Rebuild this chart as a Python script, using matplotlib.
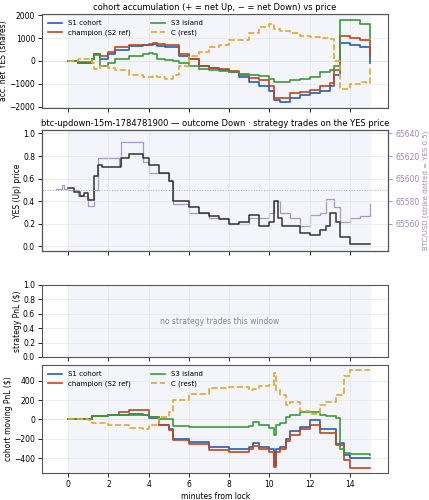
import matplotlib
matplotlib.use("Agg")
import matplotlib.pyplot as plt

t1 = [0,0.5,1.2,1.3,1.6,2.0,2.3,3.0,3.7,4.0,4.2,4.4,4.8,5.2,5.5,6.0,6.5,7.0,7.5,8.0,8.5,9.0,9.5,10.0,10.2,10.5,11,11.5,12,12.5,13.0,13.2,13.5,14.0,14.5,14.8,15]
acc_s1 = [0,-100,100,300,100,300,500,650,700,700,750,650,600,600,200,100,-200,-300,-400,-500,-700,-900,-1100,-1300,-1700,-1800,-1600,-1500,-1400,-1300,-1100,-600,800,700,600,600,-100]
acc_ch = [0,-100,100,300,200,400,600,700,700,750,800,750,700,700,300,100,-200,-300,-350,-450,-600,-750,-850,-1100,-1600,-1600,-1400,-1350,-1250,-1100,-950,-400,1100,1000,900,900,200]
acc_s3 = [0,-50,100,250,-200,-100,100,200,300,350,300,100,50,0,-100,-200,-350,-400,-450,-500,-550,-600,-650,-800,-900,-900,-850,-800,-700,-500,-400,-200,1800,1800,1600,1600,1000]
acc_c = [0,100,-100,-350,-200,-300,-400,-600,-700,-700,-650,-700,-800,-600,-200,200,400,600,700,900,900,1200,1500,1600,1400,1300,1200,1100,1050,1000,950,0,-1200,-1000,-900,-950,-300]

t_yes = [0,0.3,0.6,0.8,1.0,1.1,1.3,1.5,1.7,2.0,2.5,2.6,3.0,3.5,3.7,4.0,4.5,5.0,5.2,5.5,6.0,6.5,7.0,7.5,8.0,8.5,9.0,9.5,10.0,10.2,10.4,10.6,11.0,11.5,12.0,12.5,12.8,13.0,13.3,13.5,14.0,15]
yes = [.52,.48,.45,.47,.41,.41,.62,.72,.70,.70,.70,.78,.82,.82,.78,.72,.65,.58,.40,.40,.35,.30,.27,.24,.20,.22,.28,.18,.22,.40,.25,.18,.18,.12,.10,.15,.18,.30,.22,.08,.02,.02]
t_btc = [-0.6,-0.3,-0.2,0,0.5,1.0,1.3,1.5,2.5,2.6,3.5,3.7,4.0,5.0,5.2,6.0,7.0,8.0,9.0,10.0,10.2,10.5,11.0,11.5,12.0,12.5,12.8,13.2,13.5,14.0,14.5,15]
btc = [65591,65594,65591,65590,65585,65576,65590,65618,65612,65632,65632,65615,65605,65598,65578,65570,65565,65560,65565,65570,65580,65570,65565,65558,65568,65570,65582,65575,65562,65565,65567,65578]

t4 = [0,1.0,1.2,2.0,2.5,3.0,3.7,4.0,4.5,5.0,5.2,6.0,7.0,8.0,9.0,9.2,9.5,10.0,10.2,10.3,10.5,10.8,11.0,11.5,12.0,12.5,12.8,13.3,13.5,13.7,14.0,15]
pnl_s1 = [0,5,40,50,50,60,50,20,-60,-100,-200,-230,-280,-300,-280,-240,-280,-300,-480,-300,-280,-200,-120,-80,-10,-100,-100,-250,-240,-370,-400,-400]
pnl_ch = [0,5,40,50,80,100,100,30,-60,-110,-210,-250,-310,-330,-300,-270,-300,-330,-490,-330,-300,-220,-160,-100,-60,-140,-140,-260,-260,-420,-500,-500]
pnl_s3 = [0,5,40,50,50,50,50,30,10,0,-70,-80,-80,-80,-70,-30,-60,-90,-160,-60,-40,30,50,80,80,50,40,20,-300,-340,-350,-360]
pnl_c = [0,-5,-40,-60,-60,-90,-100,-60,30,80,200,260,320,330,300,310,340,350,480,300,250,150,180,90,60,150,180,250,250,450,510,510]

names = ["S1 cohort", "champion (S2 ref)", "S3 island", "C (rest)"]
cols = ["#1f5fbf", "#c0461e", "#3a9a3a", "#e0a82e"]

plt.rcParams['font.size'] = 5.5
fig = plt.figure(figsize=(4.29, 5.0), dpi=100)
L, W = 0.098, 0.807
ax1 = fig.add_axes([L, 0.784, W, 0.188])
ax2 = fig.add_axes([L, 0.498, W, 0.242])
ax3 = fig.add_axes([L, 0.286, W, 0.144])
ax4 = fig.add_axes([L, 0.054, W, 0.216])

for ax in (ax1, ax2, ax3, ax4):
    ax.set_xlim(-1.3, 15.9)
    if ax is not ax2:
        ax.axvspan(0, 15, color="#f3f5fa", zorder=0)
    ax.grid(True, color="#e6e6e6", lw=0.5)
    ax.set_axisbelow(True)
    ax.set_xticks([0, 2, 4, 6, 8, 10, 12, 14])
    for s in ax.spines.values():
        s.set_color("#555555")
    ax.tick_params(length=3, width=0.6, pad=2)

def draw(ax, t, series):
    for i, (y, c) in enumerate(zip(series, cols)):
        ls = "--" if i == 3 else "-"
        ax.step(t, y, where="post", color=c, lw=1.2, ls=ls, label=names[i])
    ax.axhline(0, color="#dddddd", lw=0.6, zorder=0.5)
    ax.legend(loc="upper left", ncol=2, frameon=False, fontsize=5, handlelength=2, columnspacing=3)

draw(ax1, t1, [acc_s1, acc_ch, acc_s3, acc_c])
ax1.set_ylim(-2050, 2050)
ax1.set_yticks([-2000, -1000, 0, 1000, 2000])
ax1.set_ylabel("acc. net YES (shares)", labelpad=1)
ax1.set_title("cohort accumulation (+ = net Up, − = net Down) vs price", fontsize=6, pad=3)
ax1.set_xticklabels([])

tw = ax2.twinx()
tw.axvspan(0, 15, color="#f3f5fa", zorder=0)
tw.step(t_btc, btc, where="post", color="#a998c8", lw=0.9, zorder=2)
tw.set_ylim(65536, 65643)
tw.set_yticks([65560, 65580, 65600, 65620, 65640])
tw.tick_params(colors="#9a86c0", length=3, width=0.6, pad=2)
tw.set_ylabel("BTC/USD (strike dotted = YES 0.5)", color="#9a86c0", fontsize=5, labelpad=2)
ax2.set_zorder(tw.get_zorder() + 1)
ax2.patch.set_visible(False)
ax2.step(t_yes, yes, where="post", color="#333333", lw=1.1)
ax2.axhline(0.5, color="#aaaaaa", lw=0.7, ls=":")
ax2.set_ylim(-0.04, 1.03)
ax2.set_ylabel("YES (Up) price", labelpad=1)
ax2.set_title("btc-updown-15m-1784781900 — outcome Down · strategy trades on the YES price", fontsize=6, pad=3)
ax2.set_xticklabels([])

ax3.set_ylim(0, 1)
ax3.set_yticks([0, 0.2, 0.4, 0.6, 0.8, 1.0])
ax3.set_ylabel("strategy PnL ($)", labelpad=1)
ax3.set_xticklabels([])
ax3.text(7.5, 0.5, "no strategy trades this window", ha="center", va="center", color="#888888", fontsize=5.5)

draw(ax4, t4, [pnl_s1, pnl_ch, pnl_s3, pnl_c])
ax4.set_ylim(-550, 560)
ax4.set_yticks([-400, -200, 0, 200, 400])
ax4.set_ylabel("cohort moving PnL ($)", labelpad=1)
ax4.set_xlabel("minutes from lock", labelpad=2)

fig.savefig("out.png", dpi=100)
